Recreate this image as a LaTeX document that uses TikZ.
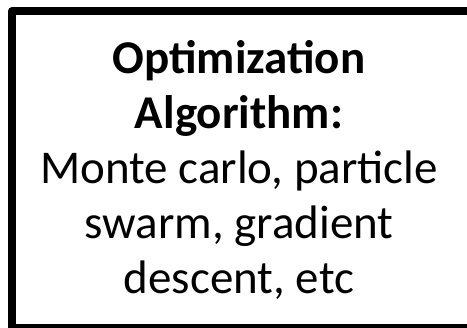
\documentclass[tikz,border=0pt]{standalone}
\usepackage{fontspec}
\setmainfont{Carlito}
\begin{document}
\begin{tikzpicture}[x=1pt,y=-1pt,
    algobox/.style={draw=black, line width=8pt, line join=round},
    algotext/.style={align=center, font=\fontsize{47}{55}\selectfont, inner sep=0pt}]

    % the frame runs past the right and bottom edges
    \useasboundingbox (0,0) rectangle (467,328);
    \clip (0,0) rectangle (467,328);
    \draw[algobox] (12,11) rectangle (471,328);

    % the text
    \node[algotext] (algo) at (239,170) {\textbf{Optimization}\\ \textbf{Algorithm:}\\ Monte carlo, particle\\ swarm, gradient\\ descent, etc};

\end{tikzpicture}
\end{document}
